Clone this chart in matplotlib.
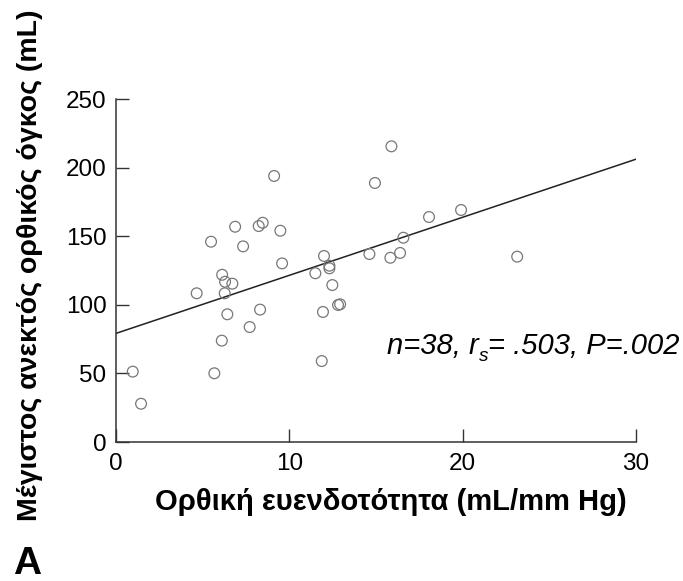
import numpy as np
import matplotlib
matplotlib.use('Agg')
import matplotlib.pyplot as plt

plt.rcParams['font.family'] = ['Liberation Sans', 'DejaVu Sans']

compliance = [0.96, 1.44, 4.65, 5.48, 5.67, 6.10, 6.12, 6.29, 6.27, 6.42,
              6.71, 6.87, 7.33, 7.71, 8.23, 8.46, 8.31, 9.12, 9.48, 9.58,
              11.50, 11.87, 11.94, 12.00, 12.31, 12.31, 12.48, 12.81, 12.93, 14.62,
              14.94, 15.83, 15.89, 16.39, 16.58, 18.06, 19.91, 23.15]
volume = [51.3, 27.9, 108.4, 146.0, 50.1, 73.9, 121.9, 116.8, 108.4, 93.1,
          115.4, 156.9, 142.6, 83.8, 157.4, 159.8, 96.5, 193.9, 154.0, 130.2,
          123.0, 59.0, 94.8, 135.6, 128.5, 126.6, 114.4, 99.9, 100.4, 137.0,
          188.8, 134.3, 215.5, 137.8, 148.9, 164.0, 169.1, 135.1]

# regression line as drawn in the figure
fit_intercept = 79.2
fit_slope = 4.23
fit_x = [0, 30]

xticks = [0, 10, 20, 30]
yticks = [0, 50, 100, 150, 200, 250]

fig = plt.figure(figsize=(6.83, 5.81), dpi=100)
ax = fig.add_axes([0.170, 0.2392, 0.761, 0.5904])

ax.scatter(compliance, volume, s=60, facecolors='none', edgecolors='#777777',
           linewidths=0.9, zorder=3)
fx = np.array(fit_x)
ax.plot(fx, fit_intercept + fit_slope * fx, color='#222222', linewidth=1.1)

ax.set_xlim(0, 30)
ax.set_ylim(0, 250)
ax.set_xticks(xticks)
ax.set_yticks(yticks)
ax.tick_params(direction='in', length=9.5, width=1, labelsize=17.5, pad=8,
               colors='#333333', labelcolor='black')
ax.tick_params(axis='y', pad=7)
for side in ['top', 'right']:
    ax.spines[side].set_visible(False)
for side in ['left', 'bottom']:
    ax.spines[side].set_color('#333333')
    ax.spines[side].set_linewidth(1.1)

ax.set_xlabel('Ορθική ευενδοτότητα (mL/mm Hg)', fontsize=21, fontweight='bold')
ax.xaxis.set_label_coords(0.529, -0.133)
fig.text(0.044, 0.544, 'Μέγιστος ανεκτός ορθικός όγκος (mL)', rotation=90,
         fontsize=20.5, fontweight='bold', ha='center', va='center')

# stats text, built in pieces so r gets a subscript s
fs = 21
t1 = ax.text(15.64, 64.5, 'n=38, r', ha='left', va='baseline',
             fontsize=fs, fontstyle='italic')
t2 = ax.annotate('s', xy=(1, 0), xycoords=t1, xytext=(0, -4),
                 textcoords='offset points', ha='left', va='bottom',
                 fontsize=fs * 0.65, fontstyle='italic')
ax.annotate('= .503, P=.002', xy=(1, 0), xycoords=(t2, t1), xytext=(0, 0),
            textcoords='offset points', ha='left', va='bottom',
            fontsize=fs, fontstyle='italic')

fig.text(0.019, 1 - 574 / 581, 'A', fontsize=28, fontweight='bold',
         ha='left', va='baseline')

fig.savefig('out.png', dpi=100)
